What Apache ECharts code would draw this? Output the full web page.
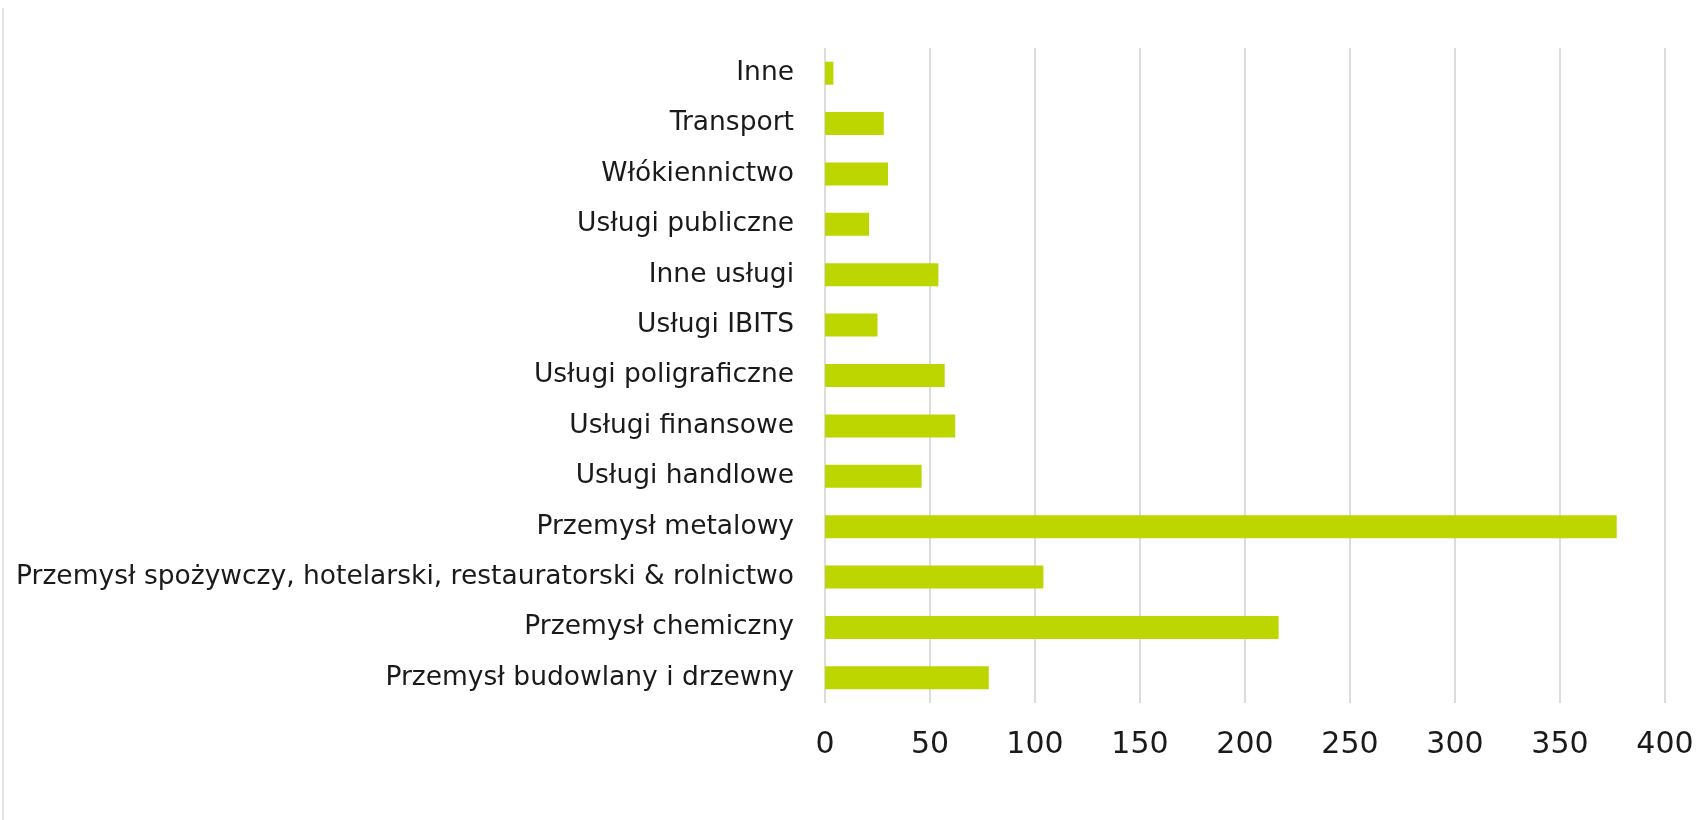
<!DOCTYPE html>
<html style="height: 100%">
<head>
<meta charset="UTF-8">
<title>Branże</title>
<script src="https://cdn.jsdelivr.net/npm/echarts@6/dist/echarts.min.js"></script>
</head>
<body style="height: 100%; margin: 0; background: #fff">
<div id="container" style="width: 1698px; height: 820px"></div>
<script type="text/javascript">
// kategorie od dołu do góry (jak na osi)
var categories = [
	'Przemysł budowlany i drzewny',
	'Przemysł chemiczny',
	'Przemysł spożywczy, hotelarski, restauratorski & rolnictwo',
	'Przemysł metalowy',
	'Usługi handlowe',
	'Usługi finansowe',
	'Usługi poligraficzne',
	'Usługi IBITS',
	'Inne usługi',
	'Usługi publiczne',
	'Włókiennictwo',
	'Transport',
	'Inne'
];
var values = [78, 216, 104, 377, 46, 62, 57, 25, 54, 21, 30, 28, 4];
var xTicks = [0, 50, 100, 150, 200, 250, 300, 350, 400];

var myChart = echarts.init(document.getElementById('container'));
var option = {
	animation: false,
	backgroundColor: '#fff',
	grid: {
		left: 825,
		right: 33,
		top: 48,
		bottom: 117,
		containLabel: false
	},
	xAxis: {
		type: 'value',
		min: xTicks[0],
		max: xTicks[xTicks.length - 1],
		interval: 50,
		axisLine: { show: false },
		axisTick: { show: false },
		axisLabel: {
			margin: 27,
			color: '#1a1a1a',
			fontFamily: 'DejaVu Sans',
			fontSize: 30
		},
		splitLine: {
			lineStyle: { color: '#d0d0d0', width: 1.5 }
		}
	},
	yAxis: {
		type: 'category',
		data: categories,
		axisLine: { show: false },
		axisTick: { show: false },
		axisLabel: {
			margin: 31,
			color: '#1a1a1a',
			fontFamily: 'DejaVu Sans',
			fontSize: 26.5
		}
	},
	graphic: [{
		type: 'line',
		shape: { x1: 3, y1: 8, x2: 3, y2: 820 },
		style: { stroke: '#c8c8c8', lineWidth: 1 }
	}],
	series: [{
		type: 'bar',
		data: values,
		barWidth: 23,
		itemStyle: { color: '#bed600' }
	}]
};
myChart.setOption(option);
</script>
</body>
</html>
